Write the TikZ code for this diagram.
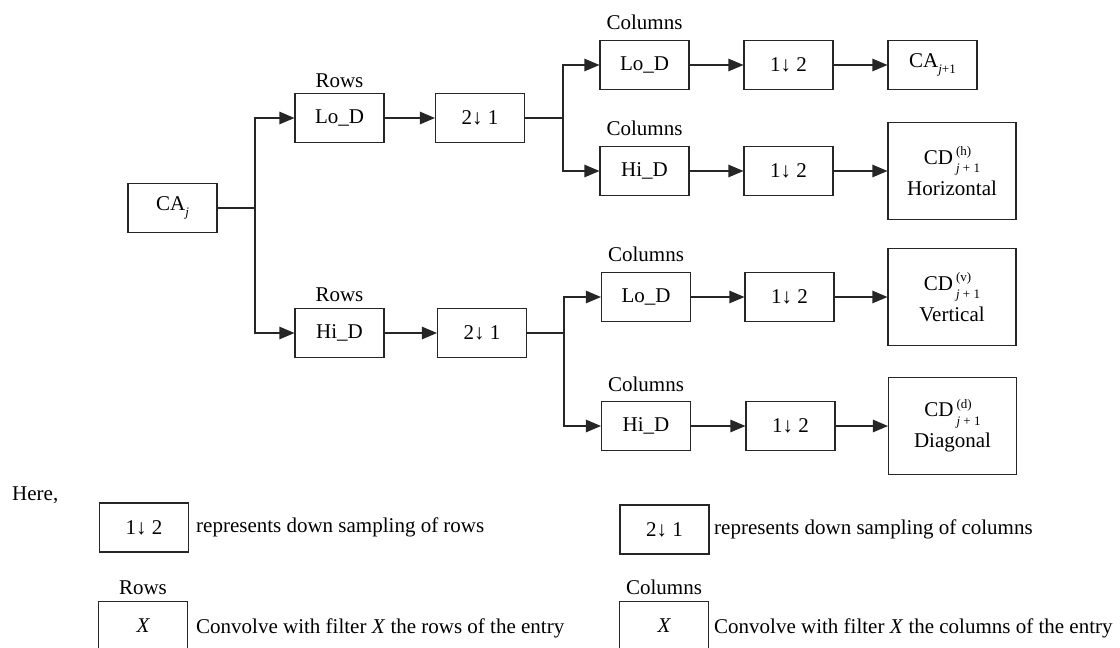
\documentclass[tikz,border=0pt]{standalone}
\usepackage{fontspec}
\setmainfont{Liberation Serif}
\usetikzlibrary{arrows.meta}
\newcommand{\subsz}{\fontsize{13}{13}\selectfont}
\newcommand{\lowj}[1]{\raisebox{-6pt}{\subsz #1}}
\newcommand{\cdlabel}[1]{CD\hspace{3pt}\makebox[0pt][l]{\raisebox{8.5pt}{\subsz(#1)}}\raisebox{-8.5pt}{\subsz\itshape j\upshape\ + 1}}
\begin{document}
\begin{tikzpicture}[x=1pt,y=-1pt,
  font=\fontsize{21}{25}\selectfont,
  box/.style={draw=black!85, line width=1.1pt, minimum width=89pt, minimum height=49pt, inner sep=0pt},
  bigbox/.style={box, minimum width=128pt, minimum height=97pt, align=center, font=\fontsize{21}{31}\selectfont},
  lbl/.style={inner sep=0pt},
  conn/.style={line width=1.1pt, draw=black!85},
  arr/.style={conn, -{Triangle[length=15pt,width=12.5pt]}}]
\useasboundingbox (0,0) rectangle (1120,648);

% main diagram
\node[box] (CAj) at (172.5,208) {CA\lowj{\itshape j}};
\node[box] (rowsLo) at (339.5,118) {Lo\_D};
\node[box] (ds1) at (480,118) {2↓ 1};
\node[box] (colLo1) at (644.5,65) {Lo\_D};
\node[box] (colHi1) at (644.5,171) {Hi\_D};
\node[box] (r1) at (788.5,65) {1↓ 2};
\node[box] (CAj1) at (932.5,65) {CA\lowj{\itshape j\upshape+1}};
\node[box] (r2) at (788.5,171) {1↓ 2};
\node[bigbox] (CDh) at (952,171) {\cdlabel{h}\\Horizontal};

\node[box] (rowsHi) at (339.5,333) {Hi\_D};
\node[box] (ds2) at (482,333) {2↓ 1};
\node[box] (colLo2) at (646,297) {Lo\_D};
\node[box] (colHi2) at (646,426) {Hi\_D};
\node[box] (r3) at (789.5,297) {1↓ 2};
\node[bigbox] (CDv) at (952,297) {\cdlabel{v}\\Vertical};
\node[box] (r4) at (790.5,426) {1↓ 2};
\node[bigbox] (CDd) at (952.5,426) {\cdlabel{d}\\Diagonal};

% labels above filter boxes
\node[lbl, anchor=south] (lRowsLo) at ([yshift=5pt]rowsLo.north) {Rows};
\node[lbl, anchor=south] (lRowsHi) at ([yshift=6pt]rowsHi.north) {Rows};
\node[lbl, anchor=south] (lColLo1) at ([yshift=10pt]colLo1.north) {Columns};
\node[lbl, anchor=south] (lColHi1) at ([yshift=10pt]colHi1.north) {Columns};
\node[lbl, anchor=south] (lColLo2) at ([yshift=10pt]colLo2.north) {Columns};
\node[lbl, anchor=south] (lColHi2) at ([yshift=9pt]colHi2.north) {Columns};

% branch points
\coordinate (t) at (255,208);
\coordinate (b1) at (563,118);
\coordinate (b2) at (564,333);

% connectors
\draw[conn] (CAj.east) -- (t);
\draw[arr] (t) |- (rowsLo.west);
\draw[arr] (t) |- (rowsHi.west);
\draw[arr] (rowsLo.east) -- (ds1.west);
\draw[arr] (rowsHi.east) -- (ds2.west);
\draw[conn] (ds1.east) -- (b1);
\draw[arr] (b1) |- (colLo1.west);
\draw[arr] (b1) |- (colHi1.west);
\draw[conn] (ds2.east) -- (b2);
\draw[arr] (b2) |- (colLo2.west);
\draw[arr] (b2) |- (colHi2.west);
\draw[arr] (colLo1.east) -- (r1.west);
\draw[arr] (r1.east) -- (CAj1.west);
\draw[arr] (colHi1.east) -- (r2.west);
\draw[arr] (r2.east) -- (CDh.west);
\draw[arr] (colLo2.east) -- (r3.west);
\draw[arr] (r3.east) -- (CDv.west);
\draw[arr] (colHi2.east) -- (r4.west);
\draw[arr] (r4.east) -- (CDd.west);

% legend
\node[lbl, anchor=west] (here) at (12,495) {Here,};
\node[box] (leg1) at (144,527.5) {1↓ 2};
\node[lbl, anchor=west] (leg1t) at (196,527) {represents down sampling of rows};
\node[box] (leg2) at (664.5,529.5) {2↓ 1};
\node[lbl, anchor=west] (leg2t) at (714,529) {represents down sampling of columns};
\node[box] (leg3) at (143,626) {\itshape X};
\node[lbl, anchor=south] (leg3l) at ([yshift=6pt]leg3.north) {Rows};
\node[lbl, anchor=west] (leg3t) at (196,628) {Convolve with filter \textit{X} the rows of the entry};
\node[box] (leg4) at (664,626) {\itshape X};
\node[lbl, anchor=south] (leg4l) at ([yshift=6pt]leg4.north) {Columns};
\node[lbl, anchor=west] (leg4t) at (714,628) {Convolve with filter \textit{X} the columns of the entry};
\end{tikzpicture}
\end{document}
